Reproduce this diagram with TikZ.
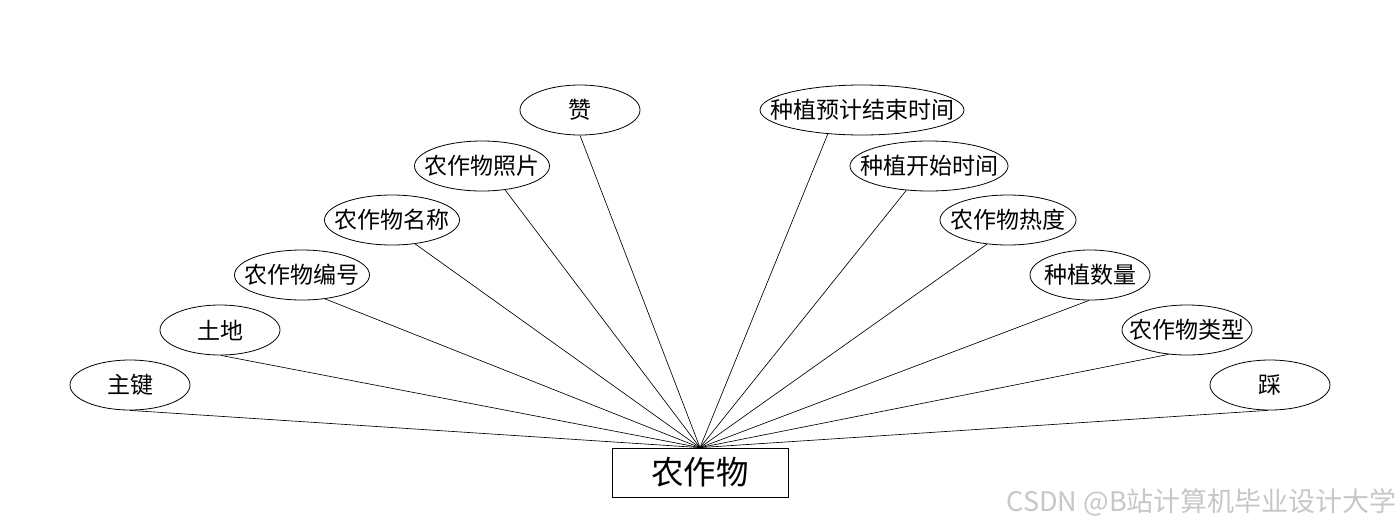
\documentclass[tikz,border=0pt]{standalone}
\usepackage{fontspec}
\setmainfont{Noto Sans CJK SC}
\usetikzlibrary{shapes.geometric}
\newcommand{\zw}[1]{\makebox[0pt]{#1}}
\begin{document}
\begin{tikzpicture}[x=1pt,y=-1pt,
  attr/.style={ellipse,draw=black,line width=0.8pt,inner sep=0pt,minimum height=50pt,font=\fontsize{23}{26}\selectfont},
  ent/.style={rectangle,draw=black,line width=0.8pt,minimum width=176pt,minimum height=49pt,inner sep=0pt,font=\fontsize{32.5}{36}\selectfont},
  link/.style={draw=black,line width=0.65pt}]
\useasboundingbox (0,0) rectangle (1400,528);
\node[ent] (e) at (700,472.5) {\zw{农作物}};
\node[attr,minimum width=120pt] (a1) at (130,385) {\zw{主键}};
\node[attr,minimum width=120pt] (a2) at (220,330) {\zw{土地}};
\node[attr,minimum width=135pt] (a3) at (302,275) {\zw{农作物编号}};
\node[attr,minimum width=135pt] (a4) at (392,220) {\zw{农作物名称}};
\node[attr,minimum width=135pt] (a5) at (482,166) {\zw{农作物照片}};
\node[attr,minimum width=120pt] (a6) at (580,110) {\zw{赞}};
\node[attr,minimum width=204pt] (b1) at (862,110) {\zw{种植预计结束时间}};
\node[attr,minimum width=158pt] (b2) at (929,166) {\zw{种植开始时间}};
\node[attr,minimum width=136pt] (b3) at (1008,220) {\zw{农作物热度}};
\node[attr,minimum width=120pt] (b4) at (1090,275) {\zw{种植数量}};
\node[attr,minimum width=130pt] (b5) at (1187,330) {\zw{农作物类型}};
\node[attr,minimum width=120pt] (b6) at (1270,385) {\zw{踩}};
\draw[link] (a1.-90) -- (e.north);
\draw[link] (a2.-88) -- (e.north);
\draw[link] (a3.-46) -- (e.north);
\draw[link] (a4.-46) -- (e.north);
\draw[link] (a5.-46) -- (e.north);
\draw[link] (a6.-90) -- (e.north);
\draw[link] (b1.-145) -- (e.north);
\draw[link] (b2.-133) -- (e.north);
\draw[link] (b3.-131) -- (e.north);
\draw[link] (b4.-92) -- (e.north);
\draw[link] (b5.-127) -- (e.north);
\draw[link] (b6.-95) -- (e.north);
\node[anchor=east,text=black!22,inner sep=0pt,font=\fontsize{27}{30}\selectfont] (wm) at (1397,502) {CSDN @B站计算机毕业设计大学};
\end{tikzpicture}
\end{document}
